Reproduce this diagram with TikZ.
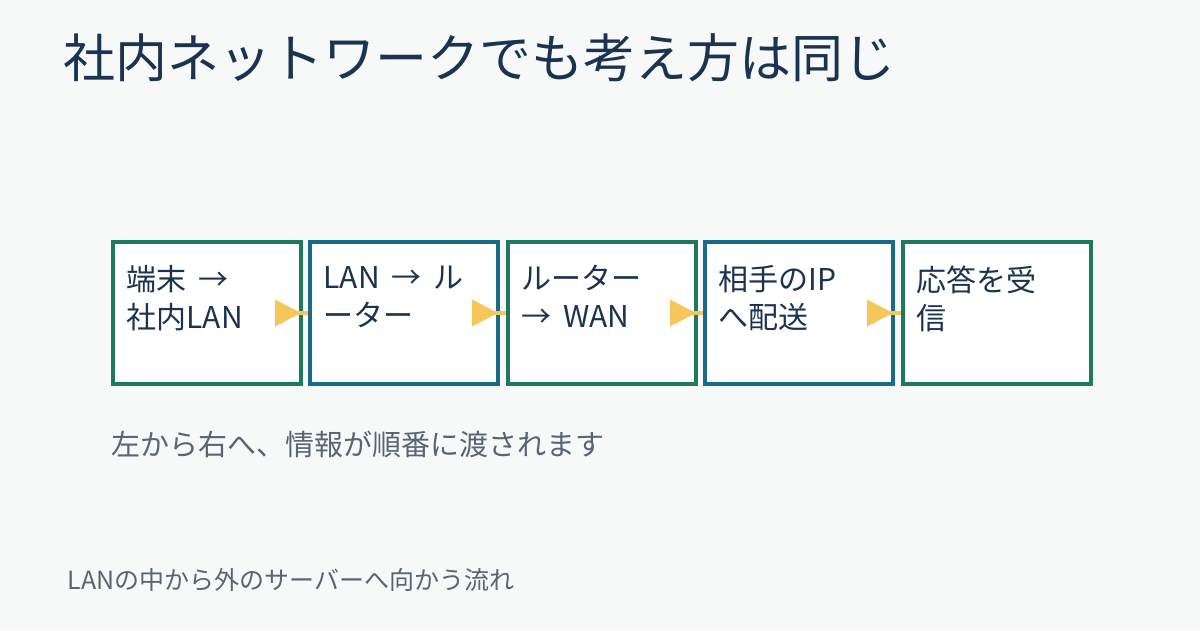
\documentclass[tikz,border=0pt]{standalone}
\usepackage{fontspec}
\setmainfont{Noto Sans CJK JP}
\usetikzlibrary{arrows.meta}
\definecolor{ink}{HTML}{1B3350}
\definecolor{boxgreen}{HTML}{1F7A5A}
\definecolor{boxblue}{HTML}{1A6A8A}
\definecolor{flowyellow}{HTML}{F5C75A}
\definecolor{note}{HTML}{5A6470}
\definecolor{paper}{HTML}{F7F9F9}
\tikzset{
  step/.style={draw=#1, line width=4pt, fill=white, minimum width=188pt, minimum height=142pt, anchor=north west},
  steptext/.style={anchor=north west, align=left, text=ink, font=\fontsize{30}{38}\selectfont},
  flow/.style={draw=flowyellow, line width=4pt, {Triangle[reversed,length=26pt,width=26pt]}-}
}
\begin{document}
\begin{tikzpicture}[x=1pt,y=1pt]
\fill[paper] (0,0) rectangle (1200,630);
\useasboundingbox (0,0) rectangle (1200,630);
% title
\node[anchor=west, text=ink, font=\fontsize{52}{56}\selectfont] (title) at (60,572) {社内ネットワークでも考え方は同じ};
% steps
\node[step=boxgreen] (s1) at (111,390) {};
\node[step=boxblue]  (s2) at (308,390) {};
\node[step=boxgreen] (s3) at (506,390) {};
\node[step=boxblue]  (s4) at (703,390) {};
\node[step=boxgreen] (s5) at (901,390) {};
% flow between steps
\draw[flow] ([xshift=-28pt]s1.east) -- (s2.west);
\draw[flow] ([xshift=-28pt]s2.east) -- (s3.west);
\draw[flow] ([xshift=-28pt]s3.east) -- (s4.west);
\draw[flow] ([xshift=-28pt]s4.east) -- (s5.west);
% texts
\node[steptext] (t1) at ([xshift=12pt,yshift=-22pt]s1.north west) {端末 \,→\\社内LAN};
\node[steptext] (t2) at ([xshift=12pt,yshift=-22pt]s2.north west) {LAN \,→\, ル\\ーター};
\node[steptext] (t3) at ([xshift=12pt,yshift=-22pt]s3.north west) {ルーター\\→ \,WAN};
\node[steptext] (t4) at ([xshift=12pt,yshift=-22pt]s4.north west) {相手のIP\\へ配送};
\node[steptext] (t5) at ([xshift=12pt,yshift=-22pt]s5.north west) {応答を受\\信};
% notes
\node[anchor=west, text=note, font=\fontsize{29}{32}\selectfont] (caption) at (108,186) {左から右へ、情報が順番に渡されます};
\node[anchor=west, text=note, font=\fontsize{25}{28}\selectfont] (footer) at (64,50) {LANの中から外のサーバーへ向かう流れ};
\end{tikzpicture}
\end{document}
